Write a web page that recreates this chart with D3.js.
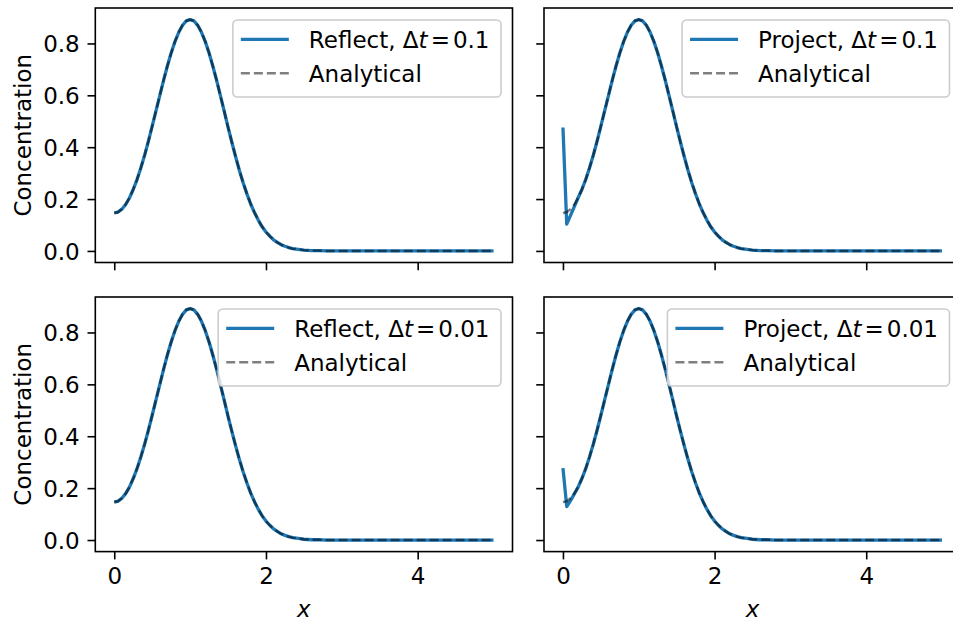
<!DOCTYPE html>
<html>
<head>
<meta charset="utf-8">
<script src="https://cdn.jsdelivr.net/npm/d3@7"></script>
<style>
body { margin: 0; background: #fff; overflow: hidden; }
text { font-family: "DejaVu Sans", sans-serif; }
</style>
</head>
<body>
<div id="chart-area"></div>
<script>
// sample positions along x
var xs = [0, 0.05, 0.1, 0.15, 0.2, 0.25, 0.3, 0.35, 0.4, 0.45,
          0.5, 0.55, 0.6, 0.65, 0.7, 0.75, 0.8, 0.85, 0.9, 0.95,
          1.0, 1.05, 1.1, 1.15, 1.2, 1.25, 1.3, 1.35, 1.4, 1.45,
          1.5, 1.55, 1.6, 1.65, 1.7, 1.75, 1.8, 1.85, 1.9, 1.95,
          2.0, 2.05, 2.1, 2.15, 2.2, 2.25, 2.3, 2.35, 2.4, 2.45,
          2.5, 2.6, 2.7, 2.8, 2.9, 3.0, 3.5, 4.0, 4.5, 5.0]

var analytical = [0.146, 0.150, 0.161, 0.179, 0.204, 0.237, 0.275, 0.320, 0.369, 0.423,
                  0.481, 0.540, 0.599, 0.658, 0.713, 0.763, 0.807, 0.843, 0.870, 0.887,
                  0.892, 0.887, 0.870, 0.843, 0.807, 0.763, 0.712, 0.657, 0.598, 0.538,
                  0.477, 0.419, 0.363, 0.310, 0.262, 0.219, 0.180, 0.147, 0.118, 0.093,
                  0.073, 0.057, 0.043, 0.033, 0.024, 0.018, 0.013, 0.009, 0.007, 0.005,
                  0.003, 0.001, 0.001, 0.000, 0.000, 0.000, 0.000, 0.000, 0.000, 0.000]

var reflect01 = [0.147, 0.150, 0.161, 0.179, 0.204, 0.237, 0.275, 0.320, 0.369, 0.423,
                 0.481, 0.540, 0.599, 0.658, 0.713, 0.763, 0.807, 0.843, 0.870, 0.887,
                 0.892, 0.887, 0.870, 0.843, 0.807, 0.763, 0.712, 0.657, 0.598, 0.538,
                 0.477, 0.419, 0.363, 0.310, 0.262, 0.219, 0.180, 0.147, 0.118, 0.093,
                 0.073, 0.057, 0.043, 0.033, 0.024, 0.018, 0.013, 0.009, 0.007, 0.005,
                 0.003, 0.001, 0.001, 0.000, 0.000, 0.000, 0.000, 0.000, 0.000, 0.000]

var project01 = [0.476, 0.103, 0.137, 0.171, 0.205, 0.237, 0.275, 0.320, 0.369, 0.423,
                 0.481, 0.540, 0.599, 0.658, 0.713, 0.763, 0.807, 0.843, 0.870, 0.887,
                 0.892, 0.887, 0.870, 0.843, 0.807, 0.763, 0.712, 0.657, 0.598, 0.538,
                 0.477, 0.419, 0.363, 0.310, 0.262, 0.219, 0.180, 0.147, 0.118, 0.093,
                 0.073, 0.057, 0.043, 0.033, 0.024, 0.018, 0.013, 0.009, 0.007, 0.005,
                 0.003, 0.001, 0.001, 0.000, 0.000, 0.000, 0.000, 0.000, 0.000, 0.000]

var reflect001 = [0.146, 0.150, 0.161, 0.179, 0.204, 0.237, 0.275, 0.320, 0.369, 0.423,
                  0.481, 0.540, 0.599, 0.658, 0.713, 0.763, 0.807, 0.843, 0.870, 0.887,
                  0.892, 0.887, 0.870, 0.843, 0.807, 0.763, 0.712, 0.657, 0.598, 0.538,
                  0.477, 0.419, 0.363, 0.310, 0.262, 0.219, 0.180, 0.147, 0.118, 0.093,
                  0.073, 0.057, 0.043, 0.033, 0.024, 0.018, 0.013, 0.009, 0.007, 0.005,
                  0.003, 0.001, 0.001, 0.000, 0.000, 0.000, 0.000, 0.000, 0.000, 0.000]

var project001 = [0.277, 0.129, 0.152, 0.178, 0.204, 0.237, 0.275, 0.320, 0.369, 0.423,
                  0.481, 0.540, 0.599, 0.658, 0.713, 0.763, 0.807, 0.843, 0.870, 0.887,
                  0.892, 0.887, 0.870, 0.843, 0.807, 0.763, 0.712, 0.657, 0.598, 0.538,
                  0.477, 0.419, 0.363, 0.310, 0.262, 0.219, 0.180, 0.147, 0.118, 0.093,
                  0.073, 0.057, 0.043, 0.033, 0.024, 0.018, 0.013, 0.009, 0.007, 0.005,
                  0.003, 0.001, 0.001, 0.000, 0.000, 0.000, 0.000, 0.000, 0.000, 0.000]

var methods = ["Reflect", "Project", "Reflect", "Project"]
var steps = ["0.1", "0.1", "0.01", "0.01"]
var numeric = [reflect01, project01, reflect001, project001]
var xTicks = [0, 2, 4]
var yTicks = [0, 0.2, 0.4, 0.6, 0.8]

var width = 953
var height = 626
var fs = 23
var blue = "#1f77b4"

// axes boxes (left, top, right, bottom)
var boxes = [
    {l: 95.3, t: 8, r: 512.5, b: 262.5},
    {l: 544, t: 8, r: 961, b: 262.5},
    {l: 95.3, t: 297, r: 512.5, b: 551.6},
    {l: 544, t: 297, r: 961, b: 551.6}
]

var svg = d3.select("#chart-area").append("svg")
    .attr("width", width)
    .attr("height", height)

var ymin = -0.0446, ymax = 0.9367

boxes.forEach((box, i) => {
    var x = d3.scaleLinear().domain([-0.25, 5.25]).range([box.l, box.r])
    var y = d3.scaleLinear().domain([ymin, ymax]).range([box.b, box.t])
    var g = svg.append("g")

    var line = d3.line()
        .x((d, j) => x(xs[j]))
        .y(d => y(d))

    g.append("path")
        .datum(numeric[i])
        .attr("d", line)
        .attr("fill", "none")
        .attr("stroke", blue)
        .attr("stroke-width", 3.3)
        .attr("stroke-linejoin", "round")

    g.append("path")
        .datum(analytical)
        .attr("d", line)
        .attr("fill", "none")
        .attr("stroke", "#000")
        .attr("stroke-opacity", 0.5)
        .attr("stroke-width", 2.4)
        .attr("stroke-dasharray", "9,4")

    // axes
    var xAxis = d3.axisBottom(x).tickValues(xTicks)
        .tickSize(7.8).tickPadding(7.8)
        .tickFormat(i >= 2 ? d3.format("d") : "")
    var yAxis = d3.axisLeft(y).tickValues(yTicks)
        .tickSize(7.8).tickPadding(7.8)
        .tickFormat(i % 2 == 0 ? d3.format(".1f") : "")

    var xg = g.append("g")
        .attr("transform", "translate(0," + box.b + ")")
        .call(xAxis)
    var yg = g.append("g")
        .attr("transform", "translate(" + box.l + ",0)")
        .call(yAxis)

    ;[xg, yg].forEach(a => {
        a.select(".domain").remove()
        a.selectAll(".tick line").attr("stroke", "#000").attr("stroke-width", 1.6)
        a.selectAll(".tick text")
            .attr("fill", "#000")
            .attr("font-size", fs)
            .attr("font-family", "DejaVu Sans")
    })
    xg.selectAll(".tick text").attr("dy", null).attr("y", 7.8 + 7.8 + 16.8)
    yg.selectAll(".tick text").attr("dy", null).attr("y", 8.4)

    g.append("rect")
        .attr("x", box.l).attr("y", box.t)
        .attr("width", box.r - box.l).attr("height", box.b - box.t)
        .attr("fill", "none")
        .attr("stroke", "#000")
        .attr("stroke-width", 1.6)

    // legend
    var lg = g.append("g")
    var frame = lg.append("rect")
        .attr("y", 0).attr("height", 77)
        .attr("rx", 4.4)
        .attr("fill", "#fff").attr("fill-opacity", 0.8)
        .attr("stroke", "#cccccc").attr("stroke-width", 1.6)

    lg.append("line")
        .attr("x1", 8).attr("x2", 56).attr("y1", 19.3).attr("y2", 19.3)
        .attr("stroke", blue).attr("stroke-width", 3.3)
    lg.append("line")
        .attr("x1", 8).attr("x2", 56).attr("y1", 53.3).attr("y2", 53.3)
        .attr("stroke", "#000").attr("stroke-opacity", 0.5)
        .attr("stroke-width", 2.4).attr("stroke-dasharray", "9,4")

    var t1 = lg.append("text")
        .attr("x", 76).attr("y", 27.5)
        .attr("font-size", fs)
    t1.append("tspan").text(methods[i] + ", \u0394")
    t1.append("tspan").attr("font-style", "italic").text("t")
    t1.append("tspan").attr("dx", 3).text("=")
    t1.append("tspan").attr("dx", 3).text(steps[i])

    lg.append("text")
        .attr("x", 76).attr("y", 61.5)
        .attr("font-size", fs)
        .text("Analytical")

    var tw = t1.node().getBBox().width
    var lw = 76 + tw + 11.5
    frame.attr("x", 0).attr("width", lw)
    lg.attr("transform", "translate(" + (box.r - 11.5 - lw) + "," + (box.t + 12) + ")")

    // axis labels
    if (i % 2 == 0) {
        g.append("text")
            .attr("transform", "translate(30.5," + ((box.t + box.b) / 2) + ") rotate(-90)")
            .attr("text-anchor", "middle")
            .attr("font-size", fs)
            .text("Concentration")
    }
    if (i >= 2) {
        g.append("text")
            .attr("x", (box.l + box.r) / 2)
            .attr("y", 617)
            .attr("text-anchor", "middle")
            .attr("font-size", fs)
            .attr("font-style", "italic")
            .text("x")
    }
})
</script>
</body>
</html>
